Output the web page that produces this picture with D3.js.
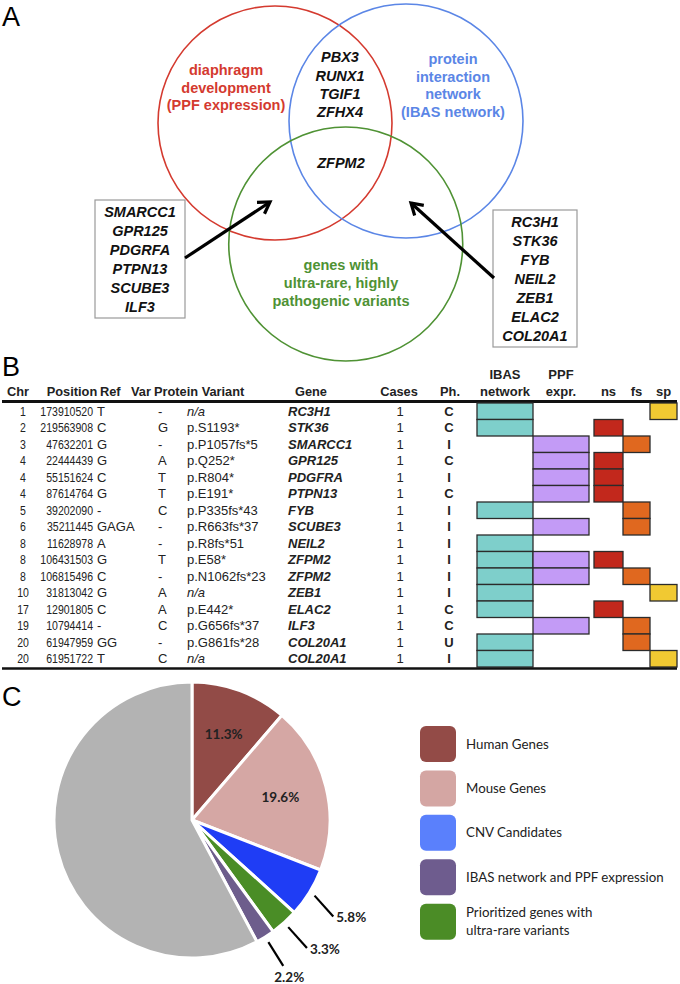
<!DOCTYPE html>
<html><head><meta charset="utf-8">
<script src="https://cdn.jsdelivr.net/npm/d3@7"></script>
<style>
html,body{margin:0;padding:0;background:#fff;}
svg{display:block;}
</style></head>
<body>
<svg id="fig" width="680" height="984"></svg>
<script>
// ---------------- DATA ----------------
// Panel A (Venn)
const vennSetLabels = [
  ["diaphragm","development","(PPF expression)"],
  ["protein","interaction","network","(IBAS network)"],
  ["genes with","ultra-rare, highly","pathogenic variants"]
];
const vennSetColors = ["#d43a2f", "#5b86e6", "#4f9234"];
const vennPpfIbas = ["PBX3","RUNX1","TGIF1","ZFHX4"];
const vennAll = ["ZFPM2"];
const vennPpfRare = ["SMARCC1","GPR125","PDGRFA","PTPN13","SCUBE3","ILF3"];
const vennIbasRare = ["RC3H1","STK36","FYB","NEIL2","ZEB1","ELAC2","COL20A1"];

// Panel B (table)
const tableHeaders = ["Chr","Position","Ref","Var","Protein Variant","Gene","Cases","Ph."];
const flagHeaders = [["IBAS","network"],["PPF","expr."],["ns"],["fs"],["sp"]];
const chr = [1,2,3,4,4,4,5,6,8,8,8,10,17,19,20,20];
const position = [173910520,219563908,47632201,22444439,55151624,87614764,39202090,35211445,11628978,106431503,106815496,31813042,12901805,10794414,61947959,61951722];
const refAllele = ["T","C","G","G","C","G","-","GAGA","A","G","C","G","C","-","GG","T"];
const varAllele = ["-","G","-","A","T","T","C","-","-","T","-","A","A","C","-","C"];
const proteinVariant = ["n/a","p.S1193*","p.P1057fs*5","p.Q252*","p.R804*","p.E191*","p.P335fs*43","p.R663fs*37","p.R8fs*51","p.E58*","p.N1062fs*23","n/a","p.E442*","p.G656fs*37","p.G861fs*28","n/a"];
const genes = ["RC3H1","STK36","SMARCC1","GPR125","PDGFRA","PTPN13","FYB","SCUBE3","NEIL2","ZFPM2","ZFPM2","ZEB1","ELAC2","ILF3","COL20A1","COL20A1"];
const cases = [1,1,1,1,1,1,1,1,1,1,1,1,1,1,1,1];
const phenotype = ["C","C","I","C","I","C","I","I","I","I","I","I","C","C","U","I"];
const ibasNetwork = [1,1,0,0,0,0,1,0,1,1,1,1,1,0,1,1];
const ppfExpr = [0,0,1,1,1,1,0,1,0,1,1,0,0,1,0,0];
const variantClass = ["sp","ns","fs","ns","ns","ns","fs","fs","","ns","fs","sp","ns","fs","fs","sp"];

// Panel C (pie)
const pieCategories = ["Human Genes","Mouse Genes","CNV Candidates","Prioritized genes with ultra-rare variants","IBAS network and PPF expression","Other"];
const pieValues = [11.3,19.6,5.8,3.3,2.2,57.8];
const pieLabels = ["11.3%","19.6%","5.8%","3.3%","2.2%",""];
const legendOrder = ["Human Genes","Mouse Genes","CNV Candidates","IBAS network and PPF expression","Prioritized genes with ultra-rare variants"];
const legendLines = [["Human Genes"],["Mouse Genes"],["CNV Candidates"],["IBAS network and PPF expression"],["Prioritized genes with","ultra-rare variants"]];

// ---------------- STYLE / LAYOUT ----------------
const svg = d3.select("#fig");
const SANS = "'Liberation Sans', Arial, Helvetica, sans-serif";
const CAL = "Lato, 'Open Sans', sans-serif";
const pieSliceColors = ["#924b47","#d5a7a4","#1f3df5","#4a8d26","#6d5d8c","#b3b3b3"];
const legendColors = {"Human Genes":"#934b47","Mouse Genes":"#d4a6a3","CNV Candidates":"#5a80fc","IBAS network and PPF expression":"#6e5c8e","Prioritized genes with ultra-rare variants":"#4b8c26"};
const flagColors = ["#7ecfcb","#c39bf6","#c2281c","#e0681f","#f1c932"];

// panel letters
[["A",26],["B",376],["C",706]].forEach(([t,y]) => {
  svg.append("text").attr("x",2).attr("y",y).text(t)
    .attr("font-family",SANS).attr("font-size",27).attr("fill","#000");
});

// ---------------- PANEL A ----------------
const vx = d3.scaleLinear().domain([0,1]).range([275,406]);
const R = 117;
const vennCenters = [[vx(0),123],[vx(1),121],[vx(0.54),244]];
const gA = svg.append("g");
gA.selectAll("circle.set").data(vennCenters).join("circle")
  .attr("cx",d=>d[0]).attr("cy",d=>d[1]).attr("r",R)
  .attr("fill","none").attr("stroke",(d,i)=>vennSetColors[i]).attr("stroke-width",1.6);

function textBlock(g, lines, cx, cy0, dy, opts){
  g.selectAll(null).data(lines).join("text")
    .attr("x",cx).attr("y",(d,i)=>cy0 + i*dy + opts.size*0.36)
    .attr("text-anchor","middle").attr("font-family",SANS)
    .attr("font-size",opts.size).attr("font-weight","bold")
    .attr("font-style",opts.italic?"italic":"normal")
    .attr("fill",opts.color).text(d=>d);
}
textBlock(gA, vennSetLabels[0], 226, 70, 17.6, {size:14.5,color:vennSetColors[0]});
textBlock(gA, vennSetLabels[1], 453, 59, 17.6, {size:14.5,color:vennSetColors[1]});
textBlock(gA, vennSetLabels[2], 341, 265, 18, {size:14.5,color:vennSetColors[2]});
textBlock(gA, vennPpfIbas, 340, 57, 18.3, {size:14.5,italic:true,color:"#111"});
textBlock(gA, vennAll, 341, 163, 18, {size:14.5,italic:true,color:"#111"});

const boxes = [
  {genes:vennPpfRare, x:95, y:200, w:90, top:212, tail:[185,258], head:[270,202]},
  {genes:vennIbasRare, x:493, y:210, w:84, top:222, tail:[494,278], head:[411,203]}
];
boxes.forEach(b => {
  const h = b.genes.length*19 + 4;
  gA.append("rect").attr("x",b.x).attr("y",b.y).attr("width",b.w).attr("height",h)
    .attr("fill","#fff").attr("stroke","#9a9a9a").attr("stroke-width",1.2);
  textBlock(gA, b.genes, b.x + b.w/2, b.top, 19, {size:14.5,italic:true,color:"#111"});
  const [x1,y1] = b.tail, [x2,y2] = b.head;
  gA.append("line").attr("x1",x1).attr("y1",y1).attr("x2",x2).attr("y2",y2)
    .attr("stroke","#000").attr("stroke-width",3.2);
  const ang = Math.atan2(y2-y1,x2-x1), L = 13, spread = 0.55;
  const p1 = [x2 - L*Math.cos(ang-spread), y2 - L*Math.sin(ang-spread)];
  const p2 = [x2 - L*Math.cos(ang+spread), y2 - L*Math.sin(ang+spread)];
  gA.append("path").attr("d",`M${p1}L${x2},${y2}L${p2}`)
    .attr("fill","none").attr("stroke","#000").attr("stroke-width",3.2)
    .attr("stroke-linejoin","miter").attr("stroke-linecap","butt");
});

// ---------------- PANEL B ----------------
const gB = svg.append("g");
const nRows = genes.length;
const rowY = d3.scaleBand().domain(d3.range(nRows)).range([403,667]);
const rowMid = i => rowY(i) + rowY.bandwidth()/2;
const tableLeft = 2, tableRight = 677;

const hdrY = 391;
const hdrSpec = [
  {x:18, anchor:"middle"},{x:72, anchor:"middle"},{x:100, anchor:"start"},{x:131, anchor:"start"},
  {x:154, anchor:"start"},{x:311, anchor:"middle"},{x:399, anchor:"middle"},{x:450, anchor:"middle"}
];
tableHeaders.forEach((h,i) => {
  gB.append("text").attr("x",hdrSpec[i].x).attr("y",hdrY+5).attr("text-anchor",hdrSpec[i].anchor)
    .attr("font-family",SANS).attr("font-size",12.8).attr("font-weight","bold").attr("fill","#222").text(h);
});
const flagX = [477,533,594,623,650];
const flagW = [56,56,29,27,27];
flagHeaders.forEach((lines,i) => {
  const cx = flagX[i] + flagW[i]/2;
  lines.forEach((t,j) => {
    gB.append("text").attr("x",cx).attr("y",hdrY+5 - (lines.length-1-j)*17.5)
      .attr("text-anchor","middle").attr("font-family",SANS).attr("font-size",13)
      .attr("font-weight","bold").attr("fill","#222").text(t);
  });
});
gB.append("line").attr("x1",tableLeft).attr("x2",tableRight).attr("y1",401.5).attr("y2",401.5)
  .attr("stroke","#111").attr("stroke-width",3);

const rows = d3.range(nRows).map(i => ({
  i, flags:[ibasNetwork[i]===1, ppfExpr[i]===1, variantClass[i]==="ns", variantClass[i]==="fs", variantClass[i]==="sp"]
}));
rows.forEach(r => {
  r.flags.forEach((on,k) => {
    if(!on) return;
    gB.append("rect").attr("x",flagX[k]).attr("y",rowY(r.i)).attr("width",flagW[k]).attr("height",rowY.bandwidth())
      .attr("fill",flagColors[k]).attr("stroke","#2b2b2b").attr("stroke-width",1.3);
  });
});

function cell(x, i, txt, anchor, opts={}){
  return gB.append("text").attr("x",x).attr("y",rowMid(i)+4.7).attr("text-anchor",anchor)
    .attr("font-family",SANS).attr("font-size",opts.size||13)
    .attr("font-weight",opts.bold?"bold":"normal").attr("font-style",opts.italic?"italic":"normal")
    .attr("fill","#222").text(txt);
}
const posScale = 0.78;
const posG = gB.append("g").attr("transform",`scale(${posScale},1)`);
d3.range(nRows).forEach(i => {
  posG.append("text").attr("x",23/posScale).attr("y",rowMid(i)+4.7).attr("text-anchor","middle")
    .attr("font-family",SANS).attr("font-size",13.5).attr("fill","#222").text(chr[i]);
  posG.append("text").attr("x",93/posScale).attr("y",rowMid(i)+4.7).attr("text-anchor","end")
    .attr("font-family",SANS).attr("font-size",13.5).attr("fill","#222").text(position[i]);
  cell(97, i, refAllele[i], "start");
  cell(158, i, varAllele[i], "start");
  cell(187, i, proteinVariant[i], "start", {italic: proteinVariant[i]==="n/a"});
  cell(288, i, genes[i], "start", {bold:true, italic:true});
  cell(400, i, cases[i], "middle");
  cell(449, i, phenotype[i], "middle", {bold:true});
});
gB.append("line").attr("x1",tableLeft).attr("x2",tableRight).attr("y1",668.5).attr("y2",668.5)
  .attr("stroke","#111").attr("stroke-width",2.5);

// ---------------- PANEL C ----------------
const gC = svg.append("g").attr("transform","translate(192,820)");
const pieR = 138;
const pie = d3.pie().sort(null).value(d=>d.v);
const arcs = pie(pieValues.map((v,i)=>({v,i})));
const arc = d3.arc().innerRadius(0).outerRadius(pieR);
gC.selectAll("path.slice").data(arcs).join("path")
  .attr("d",arc).attr("fill",d=>pieSliceColors[d.data.i])
  .attr("stroke","#fff").attr("stroke-width",3).attr("stroke-linejoin","round");

const inner = d3.arc().innerRadius(pieR*0.66).outerRadius(pieR*0.66);
arcs.filter(d=>d.data.v>=10 && pieLabels[d.data.i]).forEach(d => {
  const [x,y] = inner.centroid(d);
  gC.append("text").attr("x",x).attr("y",y+4.5).attr("text-anchor","middle")
    .attr("font-family",CAL).attr("font-size",13.5).attr("font-weight","bold").attr("fill","#222")
    .text(pieLabels[d.data.i]);
});
arcs.filter(d=>d.data.v<10 && pieLabels[d.data.i]).forEach(d => {
  const mid = (d.startAngle+d.endAngle)/2;
  const sx = (pieR+6)*Math.sin(mid), sy = -(pieR+6)*Math.cos(mid);
  const dir = Math.max(mid, 138*Math.PI/180);
  const len = 28;
  const ex = sx + len*Math.sin(dir), ey = sy - len*Math.cos(dir);
  gC.append("line").attr("x1",sx).attr("y1",sy).attr("x2",ex).attr("y2",ey)
    .attr("stroke","#000").attr("stroke-width",2.2);
  const below = dir > 145*Math.PI/180;
  gC.append("text").attr("x", below ? ex+6 : ex+3).attr("y", below ? ey+16 : ey+6)
    .attr("text-anchor", below ? "middle" : "start")
    .attr("font-family",CAL).attr("font-size",13.5).attr("font-weight","bold").attr("fill","#222")
    .text(pieLabels[d.data.i]);
});

// legend
const lg = svg.append("g");
const legY = d3.scaleBand().domain(legendOrder).range([726,941]).paddingInner(0.16);
legendOrder.forEach((name,i) => {
  const y = legY(name), s = 36;
  lg.append("rect").attr("x",420).attr("y",y).attr("width",s).attr("height",s).attr("rx",6)
    .attr("fill",legendColors[name]);
  const lines = legendLines[i];
  lines.forEach((t,j) => {
    lg.append("text").attr("x",466).attr("y",y + s/2 + 4.5 + (j - (lines.length-1)/2)*17.5)
      .attr("font-family",CAL).attr("font-size",13.3).attr("fill","#222").text(t);
  });
});
</script>
</body></html>
